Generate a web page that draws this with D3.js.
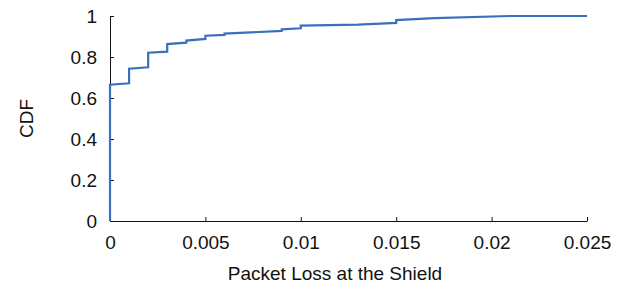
<!DOCTYPE html>
<html>
<head>
<meta charset="utf-8">
<script src="https://cdn.jsdelivr.net/npm/d3@7"></script>
<style>
  body { margin: 0; background: #fff; }
  svg text { font-family: "Liberation Sans", Arial, sans-serif; fill: #111; }
</style>
</head>
<body>
<div id="chart"></div>
<script>
// packet loss values (x) and cumulative fraction (y)
const lossValues = [0, 0, 0.001, 0.001, 0.002, 0.002, 0.003, 0.003, 0.004, 0.004,
                    0.005, 0.005, 0.006, 0.006, 0.009, 0.009, 0.010, 0.010, 0.013,
                    0.015, 0.015, 0.017, 0.021, 0.025];
const cdfValues  = [0, 0.665, 0.672, 0.743, 0.75, 0.821, 0.826, 0.863, 0.87, 0.88,
                    0.888, 0.904, 0.908, 0.914, 0.927, 0.935, 0.94, 0.953, 0.958,
                    0.966, 0.98, 0.99, 1.0, 1.0];
const xTicks = [0, 0.005, 0.01, 0.015, 0.02, 0.025];
const xTickLabels = ["0", "0.005", "0.01", "0.015", "0.02", "0.025"];
const yTicks = [0, 0.2, 0.4, 0.6, 0.8, 1];
const yTickLabels = ["0", "0.2", "0.4", "0.6", "0.8", "1"];

const width = 618, height = 285;
const margin = { left: 110, right: 31, top: 16, bottom: 64 };

const svg = d3.select("#chart")
    .append("svg")
    .attr("width", width)
    .attr("height", height);

const x = d3.scaleLinear()
    .domain([0, 0.025])
    .range([margin.left, width - margin.right]);

const y = d3.scaleLinear()
    .domain([0, 1])
    .range([height - margin.bottom, margin.top]);

// axes
const xAxis = d3.axisBottom(x)
    .tickValues(xTicks)
    .tickFormat((d, i) => xTickLabels[i])
    .tickSizeInner(-4)
    .tickSizeOuter(0)
    .tickPadding(10);

const yAxis = d3.axisLeft(y)
    .tickValues(yTicks)
    .tickFormat((d, i) => yTickLabels[i])
    .tickSizeInner(-4)
    .tickSizeOuter(0)
    .tickPadding(13);

const gx = svg.append("g")
    .attr("transform", `translate(0,${y(0)})`)
    .call(xAxis);
gx.selectAll("text").attr("font-size", 19).attr("dy", "0.95em");

const gy = svg.append("g")
    .attr("transform", `translate(${x(0)},0)`)
    .call(yAxis);
gy.selectAll("text").attr("font-size", 19);

svg.selectAll(".domain").attr("stroke", "#111");
svg.selectAll(".tick line").attr("stroke", "#111");

// line
const pts = lossValues.map((v, i) => [v, cdfValues[i]]);
const line = d3.line()
    .x(d => x(d[0]))
    .y(d => y(d[1]));

svg.append("path")
    .datum(pts)
    .attr("fill", "none")
    .attr("stroke", "#3a6fbe")
    .attr("stroke-width", 2.2)
    .attr("d", line);

// labels
svg.append("text")
    .attr("x", 335)
    .attr("y", 280)
    .attr("text-anchor", "middle")
    .attr("font-size", 19)
    .text("Packet Loss at the Shield");

svg.append("text")
    .attr("transform", `translate(33,${(y(0) + y(1)) / 2}) rotate(-90)`)
    .attr("text-anchor", "middle")
    .attr("font-size", 19)
    .text("CDF");
</script>
</body>
</html>
